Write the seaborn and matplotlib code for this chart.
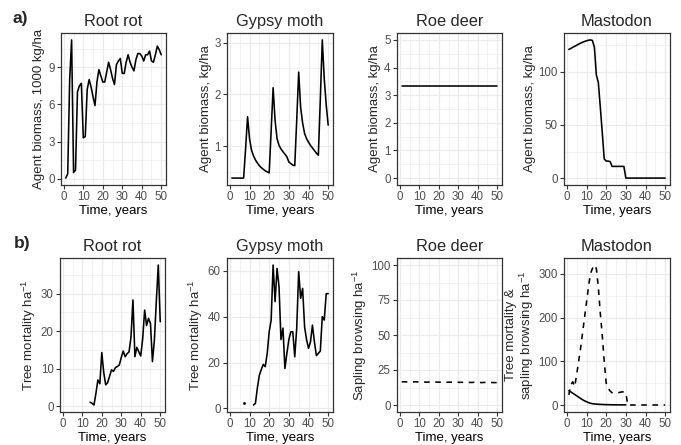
import numpy as np
import pandas as pd
import matplotlib
matplotlib.use("Agg")
import matplotlib.pyplot as plt
import seaborn as sns

NA = np.nan
years = list(range(1, 51))

# a) Agent biomass
rootrot_biomass = [0.05, 0.4, 8.0, 11.2, 0.5, 0.7, 7.0, 7.5, 7.7, 3.3,
                   3.4, 7.2, 8.0, 7.4, 6.6, 5.9, 7.8, 8.8, 8.3, 7.8,
                   7.8, 8.6, 9.4, 8.8, 8.1, 7.6, 9.2, 9.5, 9.7, 8.5,
                   8.5, 9.4, 10.0, 9.4, 9.0, 8.7, 9.6, 10.1, 10.1, 9.9,
                   9.5, 10.0, 10.0, 10.3, 9.5, 9.4, 10.0, 10.7, 10.4, 10.0]
gypsy_biomass = [0.39, 0.39, 0.39, 0.39, 0.39, 0.39, 0.39, 0.95, 1.57, 1.15,
                 0.93, 0.82, 0.74, 0.68, 0.63, 0.59, 0.56, 0.53, 0.51, 0.49,
                 1.3, 2.13, 1.5, 1.15, 1.02, 0.95, 0.9, 0.85, 0.8, 0.7,
                 0.67, 0.64, 0.63, 1.5, 2.43, 1.75, 1.45, 1.25, 1.15, 1.08,
                 1.02, 0.97, 0.92, 0.87, 0.83, 1.9, 3.05, 2.3, 1.8, 1.41]
roedeer_biomass = [3.35] * 50
mastodon_biomass = [121, 122, 123, 124, 125, 126, 127, 127.8, 128.5, 129.2,
                    129.7, 130, 129.5, 123, 97, 90, 67, 43, 18, 16,
                    16, 15.5, 11, 11, 11, 11, 11, 11, 11, 0,
                    0, 0, 0, 0, 0, 0, 0, 0, 0, 0,
                    0, 0, 0, 0, 0, 0, 0, 0, 0, 0]

# b) Tree mortality / sapling browsing
rootrot_mortality = [NA] * 13 + [1.1, 0.8, 0.35, 3.5, 7.0, 6.0, 14.3, 9.0, 5.7,
                                 6.3, 8.0, 9.7, 9.3, 10.3, 10.6, 11.0, 13.0, 14.7, 13.2,
                                 14.0, 14.5, 18.5, 28.3, 13.2, 15.7, 14.5, 13.4, 18.0, 25.6,
                                 21.5, 23.4, 22.0, 11.9, 17.6, 28.0, 37.6, 22.5]
gypsy_mortality = [NA] * 6 + [2.2] + [NA] * 4 + [1.5, 2.2, 9.0, 14.5, 17.0, 19.2, 18.2, 24.0, 33.4,
                                                 38.5, 62.5, 46.5, 61.0, 53.0, 30.0, 35.0, 17.4, 24.0, 30.0,
                                                 33.4, 33.4, 22.5, 35.0, 59.6, 48.0, 52.3, 35.6, 30.0, 26.2,
                                                 29.0, 36.3, 29.0, 23.0, 24.0, 25.0, 40.0, 38.5, 50.0, 50.0]
roedeer_browsing = [16.6, 16.6, 16.5, 16.5, 16.5, 16.4, 16.5, 16.6, 16.5, 16.4,
                    16.4, 16.5, 16.4, 16.3, 16.4, 16.4, 16.3, 16.3, 16.4, 16.3,
                    16.3, 16.4, 16.3, 16.2, 16.3, 16.3, 16.2, 16.2, 16.3, 16.2,
                    16.2, 16.2, 16.1, 16.2, 16.2, 16.1, 16.1, 16.2, 16.1, 16.1,
                    16.1, 16.0, 16.1, 16.1, 16.0, 16.0, 16.1, 16.0, 16.0, 16.0]
mastodon_mortality = [33, 30, 27, 24, 21, 18, 15, 12, 9.5, 7.5,
                      5.5, 4, 3, 2.5, 2, 1.7, 1.4, 1.2, 1.0, 0.8,
                      0.7, 0.6, 0.5, 0.5, 0.4, 0.4, 0.3, 0.3, 0.3, 0.3] + [NA] * 20
mastodon_browsing = [23, 46, 53, 42, 70, 100, 130, 165, 200, 235,
                     270, 300, 312, 320, 312, 270, 210, 160, 100, 50,
                     38, 32, 28, 27, 27, 28, 29, 30, 30, 27,
                     0, 0, 0, 0, 0, 0, 0, 0, 0, 0,
                     0, 0, 0, 0, 0, 0, 0, 0, 0, 0]

titles = ["Root rot", "Gypsy moth", "Roe deer", "Mastodon"]
x_ticks = [0, 10, 20, 30, 40, 50]

sns.set_theme(style="whitegrid")
plt.rcParams['font.family'] = ['Liberation Sans', 'DejaVu Sans']
plt.rcParams['mathtext.default'] = 'regular'

TICK_FS = 8.3
LABEL_FS = 9.5
TITLE_FS = 11.8

W, H = 681, 445
fig = plt.figure(figsize=(W / 100, H / 100), dpi=100)
fig.patch.set_facecolor("white")


def make_ax(l, t, r, b):
    return fig.add_axes([l / W, 1 - b / H, (r - l) / W, (b - t) / H])


def style_ax(ax, yticks, ylim=None):
    ax.set_facecolor("white")
    ax.set_xlim(-1.45, 52.45)
    ax.set_xticks(x_ticks)
    ax.set_xticks([5, 15, 25, 35, 45], minor=True)
    ax.set_yticks(yticks)
    step = yticks[1] - yticks[0]
    minors = [yticks[0] - step / 2] + [v + step / 2 for v in yticks]
    if ylim is not None:
        ax.set_ylim(*ylim)
    lo, hi = ax.get_ylim()
    ax.set_yticks([m for m in minors if lo < m < hi], minor=True)
    ax.set_ylim(lo, hi)
    ax.grid(True, which="major", color="#EBEBEB", lw=0.9)
    ax.grid(True, which="minor", color="#EBEBEB", lw=0.45)
    ax.set_axisbelow(True)
    for s in ax.spines.values():
        s.set_visible(True)
        s.set_color("#333333")
        s.set_linewidth(0.9)
    ax.tick_params(which="major", bottom=True, left=True, length=3, width=0.8,
                   color="#333333", labelsize=TICK_FS, labelcolor="#4D4D4D", pad=1.5)
    ax.tick_params(which="minor", bottom=False, left=False, length=0)
    ax.set_xlabel("Time, years", fontsize=LABEL_FS, color="black", labelpad=1.5)


def draw(ax, values, dashed=False):
    df = pd.DataFrame({"year": years, "value": values})
    df["seg"] = df["value"].isna().cumsum()
    df = df.dropna()
    cnt = df.groupby("seg")["value"].transform("size")
    lines = df[cnt > 1]
    singles = df[cnt == 1]
    n0 = len(ax.lines)
    sns.lineplot(data=lines, x="year", y="value", units="seg", estimator=None,
                 color="black", lw=1.15, ax=ax, legend=False)
    if dashed:
        for ln in ax.lines[n0:]:
            ln.set_linestyle((0, (3.5, 3.5)))
    if len(singles):
        sns.scatterplot(data=singles, x="year", y="value", color="black", s=4,
                        linewidth=0, ax=ax, legend=False)


lefts = [(61, 166), (227, 333), (397, 502), (564, 670)]
lefts_b = [(60, 165), (227, 333), (397, 502), (564, 670)]

# Row a
top_series = [rootrot_biomass, gypsy_biomass, roedeer_biomass, mastodon_biomass]
top_yticks = [[0, 3, 6, 9], [1, 2, 3], [0, 1, 2, 3, 4, 5], [0, 50, 100]]
top_ylims = [None, None, (-0.25, 5.25), None]
top_ylabels = ["Agent biomass, 1000 kg/ha", "Agent biomass, kg/ha",
               "Agent biomass, kg/ha", "Agent biomass, kg/ha"]
for i in range(4):
    l, r = lefts[i]
    ax = make_ax(l, 33, r, 185)
    draw(ax, top_series[i])
    style_ax(ax, top_yticks[i], top_ylims[i])
    ax.set_title(titles[i], fontsize=TITLE_FS, pad=5)
    ax.set_ylabel(top_ylabels[i], fontsize=LABEL_FS, labelpad=2)

# Row b
b_ylabels = ["Tree mortality ha$^{-1}$", "Tree mortality ha$^{-1}$",
             "Sapling browsing ha$^{-1}$",
             "Tree mortality &\nsapling browsing ha$^{-1}$"]
b_yticks = [[0, 10, 20, 30], [0, 20, 40, 60], [0, 25, 50, 75, 100], [0, 100, 200, 300]]
b_ylims = [None, None, (-5, 105), None]

axb = []
for i in range(4):
    l, r = lefts_b[i]
    axb.append(make_ax(l, 258, r, 412))

draw(axb[0], rootrot_mortality)
draw(axb[1], gypsy_mortality)
draw(axb[2], roedeer_browsing, dashed=True)
draw(axb[3], mastodon_mortality)
draw(axb[3], mastodon_browsing, dashed=True)

for i, ax in enumerate(axb):
    style_ax(ax, b_yticks[i], b_ylims[i])
    ax.set_title(titles[i], fontsize=TITLE_FS, pad=5)
    ax.set_ylabel(b_ylabels[i], fontsize=LABEL_FS, labelpad=2, linespacing=1.0)

fig.text(12 / W, 1 - 19 / H, "a)", fontsize=12.5, fontweight="bold", va="center", ha="left")
fig.text(14 / W, 1 - 243 / H, "b)", fontsize=12.5, fontweight="bold", va="center", ha="left")

fig.savefig("out.png", dpi=100, facecolor="white")
